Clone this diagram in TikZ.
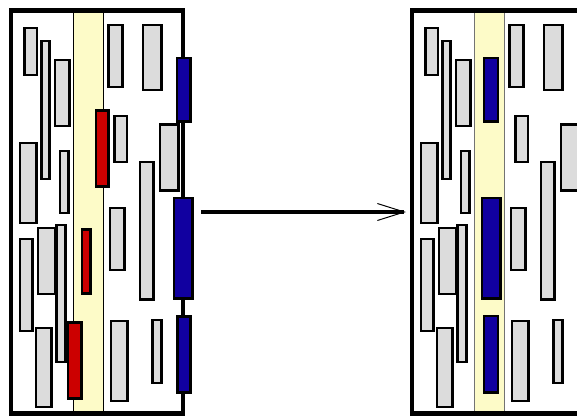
\documentclass[tikz,border=0pt]{standalone}
\usepackage{tikz}
\usetikzlibrary{arrows.meta}
\usepackage{xcolor}
\definecolor{chipgrey}{RGB}{220,220,220}
\definecolor{laneyellow}{RGB}{253,251,200}
\definecolor{segred}{RGB}{204,0,0}
\definecolor{segblue}{RGB}{17,0,160}
\tikzset{
  panel/.style={draw, line width=4.5pt, minimum width=172pt, minimum height=403pt, inner sep=0pt, outer sep=0pt},
  seg/.style={draw, line width=2.4pt, fill=chipgrey},
  redseg/.style={draw, line width=2.5pt, fill=segred},
  blueseg/.style={draw, line width=2.5pt, fill=segblue},
  shiftarrow/.style={line width=4.5pt, -{Straight Barb[length=27pt, width=17pt, line width=1pt]}}
}

\begin{document}
\begin{tikzpicture}[x=1pt, y=-1pt]
\useasboundingbox (0,0) rectangle (577,415);
\clip (0,0) rectangle (577,415);
\fill[laneyellow] (73,10) rectangle (103,414) ;
\draw[line width=0.7pt] (73,10)--(73,414) ;
\draw[line width=0.7pt] (103,10)--(103,414) ;
\fill[laneyellow] (474,10) rectangle (504,414) ;
\draw[black!55, line width=0.8pt] (474,10)--(474,414) ;
\draw[black!55, line width=0.8pt] (504,10)--(504,414) ;
\node[panel] (before) at (97,212) {};
\node[panel] (after) at (498,212) {};
\draw[seg] (24.5,28) rectangle (37,75) ;
\draw[seg] (41.5,41) rectangle (49.5,179) ;
\draw[seg] (55,60) rectangle (69.5,126) ;
\draw[seg] (20,143) rectangle (36.5,223) ;
\draw[seg] (60,151) rectangle (68.5,213) ;
\draw[seg] (108.5,25) rectangle (122.5,87) ;
\draw[seg] (143,25) rectangle (161.5,90) ;
\draw[seg] (114.5,116) rectangle (127,162) ;
\draw[seg] (160,124.5) rectangle (178.5,190.5) ;
\draw[seg] (140,162) rectangle (153.5,299.5) ;
\draw[seg] (110,208) rectangle (124.5,270) ;
\draw[seg] (20,239) rectangle (32.5,331) ;
\draw[seg] (38,228) rectangle (55.5,294) ;
\draw[seg] (56.5,225) rectangle (65.5,362) ;
\draw[seg] (36,328) rectangle (51.5,407) ;
\draw[seg] (111,321) rectangle (127.5,401) ;
\draw[seg] (152.5,320) rectangle (161.5,383) ;
\draw[redseg] (96,110.5) rectangle (108.5,186.5) ;
\draw[redseg] (82,229.5) rectangle (90.5,293.5) ;
\draw[redseg] (68,322.5) rectangle (81.5,398.5) ;
\draw[blueseg] (177,58) rectangle (190.5,121.5) ;
\draw[blueseg] (174,198) rectangle (192.5,298.5) ;
\draw[blueseg] (177.5,316.5) rectangle (190.5,392.5) ;
\begin{scope}[xshift=401pt]
\draw[seg] (24.5,28) rectangle (37,75) ;
\draw[seg] (41.5,41) rectangle (49.5,179) ;
\draw[seg] (55,60) rectangle (69.5,126) ;
\draw[seg] (20,143) rectangle (36.5,223) ;
\draw[seg] (60,151) rectangle (68.5,213) ;
\draw[seg] (108.5,25) rectangle (122.5,87) ;
\draw[seg] (143,25) rectangle (161.5,90) ;
\draw[seg] (114.5,116) rectangle (127,162) ;
\draw[seg] (160,124.5) rectangle (178.5,190.5) ;
\draw[seg] (140,162) rectangle (153.5,299.5) ;
\draw[seg] (110,208) rectangle (124.5,270) ;
\draw[seg] (20,239) rectangle (32.5,331) ;
\draw[seg] (38,228) rectangle (55.5,294) ;
\draw[seg] (56.5,225) rectangle (65.5,362) ;
\draw[seg] (36,328) rectangle (51.5,407) ;
\draw[seg] (111,321) rectangle (127.5,401) ;
\draw[seg] (152.5,320) rectangle (161.5,383) ;
\draw[blueseg] (83,58) rectangle (97,121.5) ;
\draw[blueseg] (81,198) rectangle (99.5,298.5) ;
\draw[blueseg] (83,316) rectangle (97,392.5) ;
\end{scope}
\draw[shiftarrow] ([xshift=18pt]before.east) -- ([xshift=-6pt]after.west) ;
\end{tikzpicture}
\end{document}
